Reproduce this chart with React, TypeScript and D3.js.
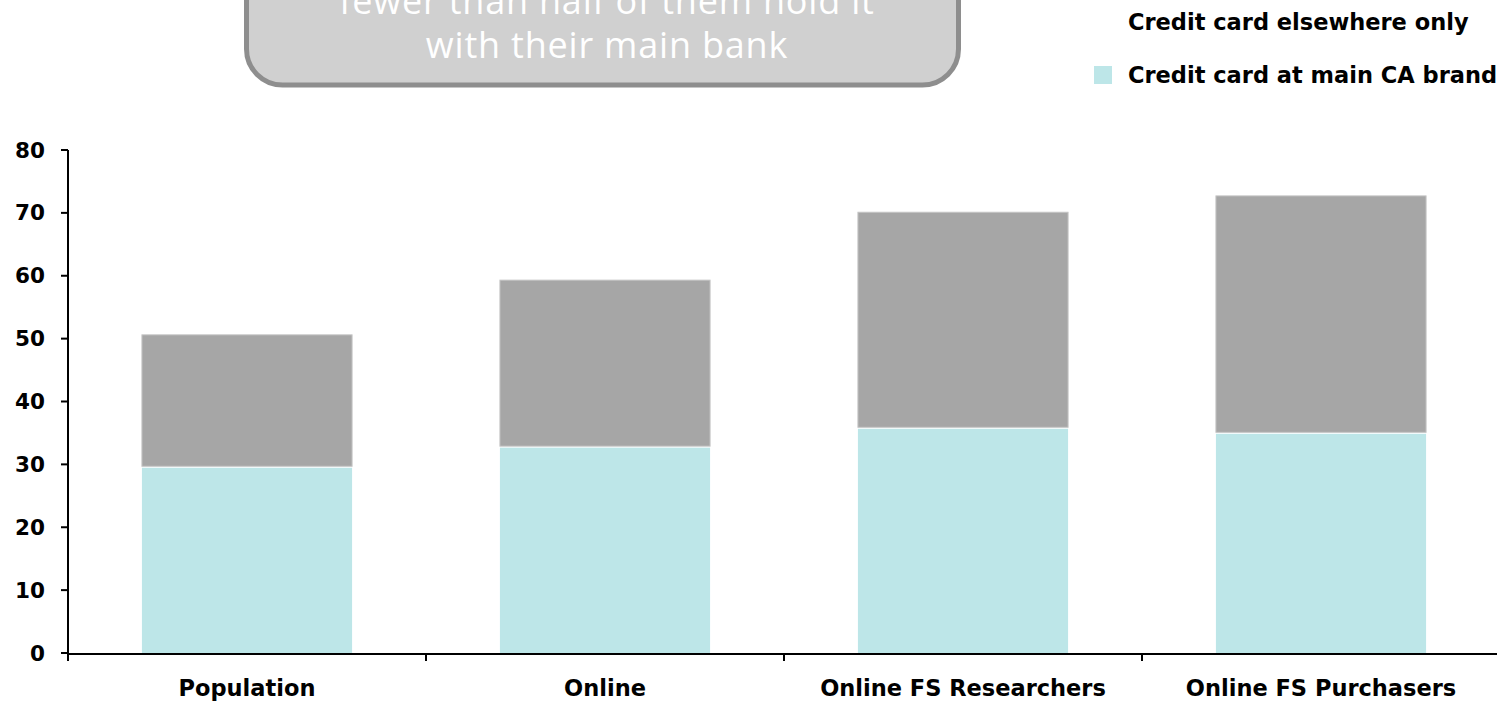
import React from "react";
import * as d3 from "d3";

const categories = ["Population", "Online", "Online FS Researchers", "Online FS Purchasers"];
const mainBrand = [29.7, 32.9, 35.9, 35.1];
const elsewhereOnly = [20.9, 26.4, 34.2, 37.6];
const yTicks = [0, 10, 20, 30, 40, 50, 60, 70, 80];
const seriesNames = ["Credit card elsewhere only", "Credit card at main CA brand"];
const calloutLines = ["fewer than half of them hold it", "with their main bank"];

const W = 1497;
const H = 702;
const FONT = "'DejaVu Sans', Verdana, sans-serif";

export default function App() {
  const x = d3.scaleBand<string>().domain(categories).range([68, 1500]).paddingInner(0).paddingOuter(0);
  const y = d3.scaleLinear().domain([0, 80]).range([653, 150]);
  const barW = x.bandwidth() * 0.587;

  const stacked = categories.map((c, i) => {
    const a = mainBrand[i];
    const b = a + elsewhereOnly[i];
    return { c, a, b };
  });

  return (
    <svg width={W} height={H} style={{ position: "absolute", left: 0, top: 0, background: "#fff" }}>
      {/* callout */}
      <rect x={246.5} y={-60} width={712} height={145} rx={36} ry={36} fill="#d0d0d0" stroke="#8e8e8e" strokeWidth={5} />
      {calloutLines.map((t, i) => (
        <text key={t} x={607} y={14 + i * 44} textAnchor="middle" fill="#ffffff" fontFamily="'Open Sans', sans-serif" fontSize={36} fontWeight={400} letterSpacing={0.8}>
          {t}
        </text>
      ))}

      {/* legend */}
      <text x={1128} y={30} fontFamily={FONT} fontWeight="bold" fontSize={22.5} fill="#000">{seriesNames[0]}</text>
      <rect x={1094} y={66} width={18} height={18} fill="#bde6e8" />
      <text x={1128} y={83} fontFamily={FONT} fontWeight="bold" fontSize={22.5} fill="#000">{seriesNames[1]}</text>

      {/* bars */}
      {stacked.map((d) => {
        const cx = (x(d.c) as number) + x.bandwidth() / 2;
        return (
          <g key={d.c}>
            <rect x={cx - barW / 2} y={y(d.b)} width={barW} height={y(d.a) - y(d.b)} fill="#a6a6a6" stroke="#c4c4c4" strokeWidth={1} />
            <rect x={cx - barW / 2} y={y(d.a) + 1.5} width={barW} height={y(0) - y(d.a) - 1.5} fill="#bde6e8" />
          </g>
        );
      })}

      {/* y axis */}
      <line x1={68} x2={68} y1={150} y2={655} stroke="#000" strokeWidth={2} />
      {yTicks.map((t) => (
        <g key={t}>
          <line x1={61} x2={68} y1={y(t)} y2={y(t)} stroke="#000" strokeWidth={2} />
          <text x={45} y={y(t)} dy="0.35em" textAnchor="end" fontFamily={FONT} fontWeight="bold" fontSize={21.5} fill="#000">{t}</text>
        </g>
      ))}

      {/* x axis */}
      <line x1={67} x2={1500} y1={654} y2={654} stroke="#000" strokeWidth={2} />
      {categories.map((c) => (
        <line key={c} x1={x(c) as number} x2={x(c) as number} y1={654} y2={661} stroke="#000" strokeWidth={2} />
      ))}
      {categories.map((c) => (
        <text key={c} x={(x(c) as number) + x.bandwidth() / 2} y={696} textAnchor="middle" fontFamily={FONT} fontWeight="bold" fontSize={22.5} fill="#000">{c}</text>
      ))}
    </svg>
  );
}
